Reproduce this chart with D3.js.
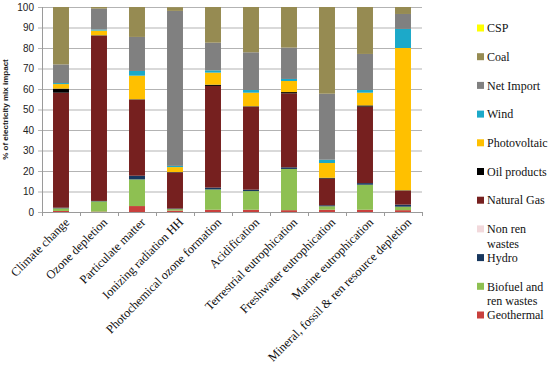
<!DOCTYPE html>
<meta charset="utf-8">
<script src="https://d3js.org/d3.v7.min.js"></script>
<style>
    body { margin: 0; background: #fff; }
    .ytick { font-family: "Liberation Sans", Arial, sans-serif; font-size: 10px; fill: #222; }
    .xlab { font-family: "Liberation Serif", "Times New Roman", serif; font-size: 12.3px; fill: #111; }
    .leg { font-family: "Liberation Serif", "Times New Roman", serif; font-size: 12px; fill: #111; }
    .ytitle { font-family: "Liberation Sans", Arial, sans-serif; font-size: 8px; font-weight: bold; fill: #222; }
</style>
<div id="chart"></div>
<script>
// categories (impact indicators)
const categories = ["Climate change", "Ozone depletion", "Particulate matter", "Ionizing radiation HH",
    "Photochemical ozone formation", "Acidification", "Terrestrial eutrophication",
    "Freshwater eutrophication", "Marine eutrophication", "Mineral, fossil & ren resource depletion"];

// series values, % of electricity mix impact (stack order bottom -> top)
const geothermal   = [0.5, 0.2, 2.9, 0.7, 1.1, 1.1, 0.9, 1.1, 1.1, 0.9];
const biofuel      = [1.3, 5.0, 13.0, 0.7, 9.9, 9.1, 20.1, 1.7, 12.2, 1.7];
const hydro        = [0.3, 0.2, 1.8, 0.3, 0.9, 0.7, 0.8, 0.5, 0.8, 1.0];
const nonRenWastes = [0, 0, 0, 0, 0, 0, 0, 0, 0, 0];
const naturalGas   = [56.1, 80.6, 37.1, 17.6, 49.6, 40.5, 36.1, 13.0, 37.3, 6.8];
const oilProducts  = [2.0, 0.2, 0.2, 0.2, 0.6, 0.2, 0.6, 0.4, 0.6, 0.2];
const photovoltaic = [2.2, 2.3, 11.5, 2.4, 5.9, 6.6, 5.4, 7.2, 6.2, 69.4];
const wind         = [0.5, 0.5, 2.3, 0.6, 1.1, 1.3, 1.0, 1.6, 1.3, 9.3];
const netImport    = [9.1, 10.2, 16.6, 75.6, 13.5, 18.4, 15.3, 32.2, 17.6, 7.3];
const coal         = [28.0, 0.8, 14.6, 1.8, 17.4, 22.1, 19.8, 42.3, 22.9, 3.4];
const csp          = [0, 0, 0, 0, 0, 0, 0, 0, 0, 0];

const seriesNames = ["Geothermal", "Biofuel and ren wastes", "Hydro", "Non ren wastes", "Natural Gas",
    "Oil products", "Photovoltaic", "Wind", "Net Import", "Coal", "CSP"];
const seriesValues = [geothermal, biofuel, hydro, nonRenWastes, naturalGas,
    oilProducts, photovoltaic, wind, netImport, coal, csp];
const yTicks = [0, 10, 20, 30, 40, 50, 60, 70, 80, 90, 100];

const colors = ["#c8403d", "#8ec052", "#17375e", "#f2d9dc", "#76201f",
    "#000000", "#ffc000", "#1ca9c9", "#808080", "#968b52", "#ffff00"];

const W = 550, H = 368;
const margin = {top: 7, left: 42, right: 128, bottom: 156};
const plotW = W - margin.left - margin.right,
      plotH = H - margin.top - margin.bottom;

const svg = d3.select("#chart").append("svg")
    .attr("width", W).attr("height", H);

const table = categories.map(function(c, i) {
    const row = {cat: c};
    seriesNames.forEach(function(s, j) { row[s] = seriesValues[j][i]; });
    return row;
});
const stacked = d3.stack().keys(seriesNames)(table);

const x = d3.scaleBand().domain(categories).range([margin.left, margin.left + plotW])
    .paddingInner(0.58).paddingOuter(0.29);
const y = d3.scaleLinear().domain([0, 100]).range([margin.top + plotH, margin.top]);
const color = d3.scaleOrdinal().domain(seriesNames).range(colors);

// gridlines
svg.append("g").selectAll("line").data(yTicks).join("line")
    .attr("x1", margin.left - 4).attr("x2", margin.left + plotW)
    .attr("y1", d => y(d) + 0.5).attr("y2", d => y(d) + 0.5)
    .attr("stroke", "#b3b3b3").attr("stroke-width", 1);

// y tick labels
svg.append("g").selectAll("text").data(yTicks).join("text")
    .attr("class", "ytick")
    .attr("x", margin.left - 8).attr("y", d => y(d))
    .attr("dy", "0.35em").attr("text-anchor", "end")
    .text(d => d);

// bars
svg.append("g").selectAll("g").data(stacked).join("g")
    .attr("fill", d => color(d.key))
    .selectAll("rect").data(d => d).join("rect")
      .attr("x", d => x(d.data.cat))
      .attr("width", x.bandwidth())
      .attr("y", d => y(d[1]))
      .attr("height", d => y(d[0]) - y(d[1]));

// axes lines
svg.append("line")
    .attr("x1", margin.left + 0.5).attr("x2", margin.left + 0.5)
    .attr("y1", margin.top).attr("y2", margin.top + plotH)
    .attr("stroke", "#9a9a9a");
svg.append("line")
    .attr("x1", margin.left).attr("x2", margin.left + plotW)
    .attr("y1", margin.top + plotH + 0.5).attr("y2", margin.top + plotH + 0.5)
    .attr("stroke", "#9a9a9a");

// x ticks at category boundaries
const bounds = d3.range(categories.length + 1).map(i => margin.left + i * plotW / categories.length);
svg.append("g").selectAll("line").data(bounds).join("line")
    .attr("x1", d => Math.round(d) + 0.5).attr("x2", d => Math.round(d) + 0.5)
    .attr("y1", margin.top + plotH).attr("y2", margin.top + plotH + 4)
    .attr("stroke", "#9a9a9a");

// x labels
svg.append("g").selectAll("text").data(categories).join("text")
    .attr("class", "xlab")
    .attr("text-anchor", "end")
    .attr("transform", d => `translate(${x(d) + x.bandwidth() / 2 + 6},${margin.top + plotH + 8}) rotate(-45)`)
    .attr("dy", "0.35em")
    .text(d => d);

// y title
svg.append("text")
    .attr("class", "ytitle")
    .attr("transform", `translate(8,${margin.top + plotH / 2}) rotate(-90)`)
    .attr("text-anchor", "middle")
    .text("% of electricity mix impact");

// legend (reverse of stack order)
const legendItems = seriesNames.slice().reverse();
const legendLines = {"Non ren wastes": ["Non ren", "wastes"], "Biofuel and ren wastes": ["Biofuel and", "ren wastes"]};
const leg = svg.append("g").selectAll("g").data(legendItems).join("g")
    .attr("transform", (d, i) => `translate(477,${28 + i * 28.7})`);
leg.append("rect")
    .attr("x", 0).attr("y", -3.5).attr("width", 7).attr("height", 7)
    .attr("fill", d => color(d));
leg.append("text")
    .attr("class", "leg")
    .attr("x", 10).attr("y", 0)
    .selectAll("tspan").data(d => legendLines[d] || [d]).join("tspan")
      .attr("x", 10).attr("dy", (d, i) => i === 0 ? "0.35em" : "15px")
      .text(d => d);
</script>
